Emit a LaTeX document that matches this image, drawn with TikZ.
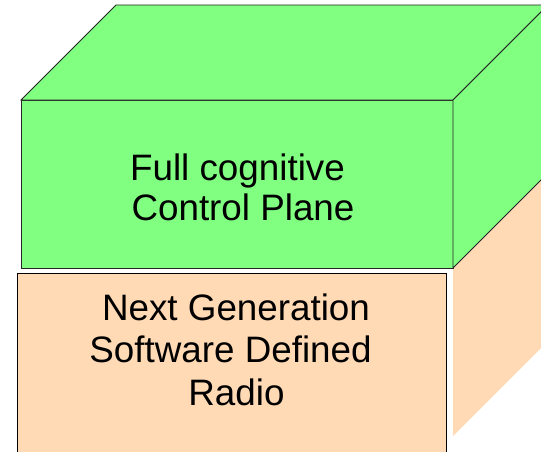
\documentclass[tikz,border=0pt]{standalone}
\usepackage{fontspec}
\setmainfont{Liberation Sans}
\definecolor{planegreen}{RGB}{128,255,128}
\definecolor{radiobeige}{RGB}{255,218,181}
\tikzset{
  greenface/.style={fill=planegreen, draw=black!85, line width=0.8pt, line join=miter},
  beigeface/.style={fill=radiobeige},
  beigefront/.style={fill=radiobeige, draw=black, line width=0.8pt},
  label/.style={inner sep=0pt, anchor=base, font=\fontsize{36.8}{42}\selectfont}
}
\begin{document}
\begin{tikzpicture}[x=1pt, y=-1pt]
  \useasboundingbox (0,0) rectangle (541,452);
  \clip (0,0) rectangle (541,452);
  % side face of the lower (radio) block
  \fill[beigeface] (453,268) -- (548,173) -- (548,341) -- (453,436) -- cycle;
  % upper block: front, top and right faces
  \draw[greenface] (21,100) rectangle (453,268);
  \draw[greenface] (21,100) -- (116,5) -- (560,5) -- (548,5) -- (453,100) -- cycle;
  \draw[greenface] (453,100) -- (548,5) -- (548,173) -- (453,268) -- cycle;
  % lower block: front face
  \draw[beigefront] (17,273) rectangle (446,470);
  % labels
  \node[label] (cp1) at (237.5,180) {Full cognitive};
  \node[label] (cp2) at (243,220) {Control Plane};
  \node[label] (sdr1) at (236,320) {Next Generation};
  \node[label] (sdr2) at (230.5,362) {Software Defined};
  \node[label] (sdr3) at (236.5,405) {Radio};
\end{tikzpicture}
\end{document}
